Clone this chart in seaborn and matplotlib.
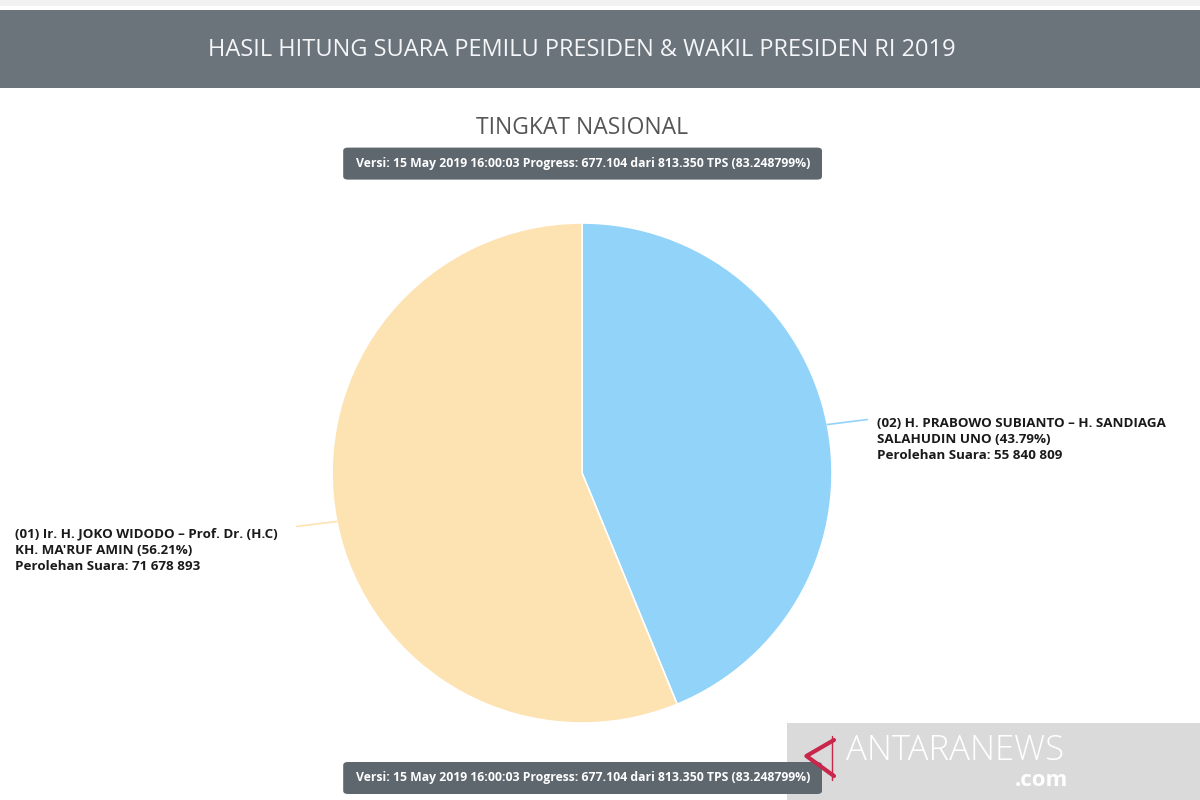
import numpy as np
import matplotlib
matplotlib.use("Agg")
import matplotlib.pyplot as plt
from matplotlib.patches import FancyBboxPatch, Rectangle
import seaborn as sns

# data
candidates = ["(02) H. PRABOWO SUBIANTO – H. SANDIAGA\nSALAHUDIN UNO",
              "(01) Ir. H. JOKO WIDODO – Prof. Dr. (H.C)\nKH. MA'RUF AMIN"]
votes = [55840809, 71678893]
slice_colors = ["#92d3fa", "#fde2b2"]
title = "HASIL HITUNG SUARA PEMILU PRESIDEN & WAKIL PRESIDEN RI 2019"
subtitle = "TINGKAT NASIONAL"
version_text = "Versi: 15 May 2019 16:00:03 Progress: 677.104 dari 813.350 TPS (83.248799%)"

sns.set_theme(style="white")
plt.rcParams['font.family'] = ['Open Sans', 'DejaVu Sans']

fig = plt.figure(figsize=(12, 8), dpi=100)
fig.patch.set_facecolor("white")

# header bar
fig.patches.append(Rectangle((0, 0.992), 1, 0.008, transform=fig.transFigure,
                             facecolor="#f2f2f2", edgecolor="none"))
fig.patches.append(Rectangle((0, 0.89), 1, 0.098, transform=fig.transFigure,
                             facecolor="#6b737b", edgecolor="none"))
fig.text(0.485, 0.938, title, color="#f4f6f8", fontsize=17, ha="center", va="center")
fig.text(0.485, 0.84, subtitle, color="#555555", fontsize=16.5, ha="center", va="center")


def badge(y):
    fig.patches.append(FancyBboxPatch((0.286, y - 0.02), 0.399, 0.04,
                                      boxstyle="round,pad=0,rounding_size=0.004",
                                      transform=fig.transFigure,
                                      facecolor="#5e666e", edgecolor="none"))
    fig.text(0.486, y, version_text, color="white", fontsize=8.8, fontweight="bold",
             ha="center", va="center")


badge(0.7955)

# pie
ax = fig.add_axes([0.2767, 0.09625, 0.4167, 0.625])
wedges, _ = ax.pie(votes, colors=slice_colors, startangle=90, counterclock=False,
                   wedgeprops=dict(edgecolor="white", linewidth=1.2))
ax.set_xlim(-1, 1)
ax.set_ylim(-1, 1)
ax.set_aspect("equal")

total = sum(votes)
for w, name, v, c in zip(wedges, candidates, votes, slice_colors):
    mid = np.deg2rad((w.theta1 + w.theta2) / 2)
    x0, y0 = np.cos(mid), np.sin(mid)
    side = 1 if x0 > 0 else -1
    x1 = x0 + side * 0.16
    y1 = y0 + 0.02 * side
    ax.plot([x0, x1], [y0, y1], color=c, lw=1.2, clip_on=False)
    pct = 100 * v / total
    label = f"{name} ({pct:.2f}%)\nPerolehan Suara: {v:,}".replace(",", " ")
    if side > 0:
        ax.text(x1 + 0.04, y1 - 0.08, label, ha="left", va="center", fontsize=9.6,
                fontweight="bold", color="#1a1a1a", linespacing=1.3)
    else:
        ax.text(-2.27, y1 - 0.095, label, ha="left", va="center", fontsize=9.6,
                fontweight="bold", color="#1a1a1a", linespacing=1.3)

# watermark
fig.patches.append(Rectangle((0.656, 0), 0.344, 0.096, transform=fig.transFigure,
                             facecolor="#d6d6d6", edgecolor="none", alpha=0.9))
badge(0.0275)
fig.lines.append(plt.Line2D([0.695, 0.672, 0.695], [0.075, 0.055, 0.03],
                            transform=fig.transFigure, color="#c8264a", lw=3))
fig.lines.append(plt.Line2D([0.693, 0.693], [0.08, 0.025],
                            transform=fig.transFigure, color="#c8264a", lw=1))
fig.text(0.705, 0.062, "ANTARANEWS", color="white", fontsize=25, ha="left",
         va="center", fontweight="light")
fig.text(0.89, 0.025, ".com", color="white", fontsize=16, ha="right", va="center",
         fontweight="bold")

fig.savefig("out.png", dpi=100, facecolor="white")
